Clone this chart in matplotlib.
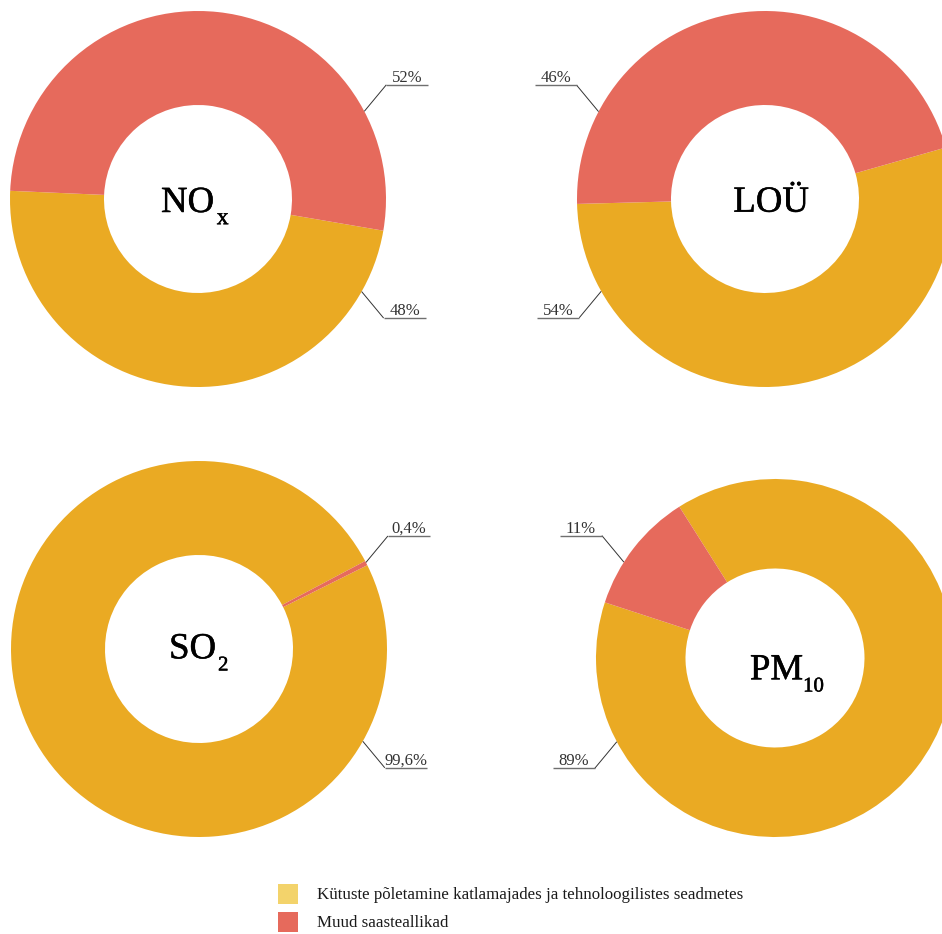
import matplotlib

matplotlib.use("Agg")
import matplotlib.pyplot as plt
import matplotlib.patheffects as pe
import numpy as np
from matplotlib.patches import Rectangle

plt.rcParams["font.family"] = ["Liberation Serif", "DejaVu Serif"]

W, H = 942, 934

# data
POLLUTANTS = ["NO", "LOÜ", "SO", "PM"]
SUBSCRIPTS = ["x", "", "2", "10"]
FUEL_SHARE = [48, 54, 99.6, 89]
OTHER_SHARE = [52, 46, 0.4, 11]
FUEL_LABELS = ["48%", "54%", "99,6%", "89%"]
OTHER_LABELS = ["52%", "46%", "0,4%", "11%"]
LEGEND_LABELS = ["Kütuste põletamine katlamajades ja tehnoloogilistes seadmetes",
                 "Muud saasteallikad"]

YELLOW = "#EAAA23"
RED = "#E66A5C"
LEGEND_YELLOW = "#F3D36B"

# layout, pixels from the top-left corner
CENTERS = [(198, 199), (765, 199), (199, 649), (775, 658)]
RADII = [188, 188, 188, 179]
START = [177.5, 181.5, 27.9, 161.9]
# angle (deg) where each leader line touches the ring: (fuel, other)
ANCHORS = [(-29.5, 27.8), (209.4, 152.3), (-29.4, 27.4), (207.9, 147.6)]
TITLE_POS = [(187.5, 212), (771, 211.7), (192.5, 658.3), (776.5, 679.3)]
SUB_SIZE = [17, 15, 15, 15]
SUB_GAP = [2, 0, 1.5, 0]
BOLDEN = [pe.withStroke(linewidth=0.35, foreground="black")]


def leader(ax, cx, cy, r, ang, text):
    a = np.radians(ang)
    x0, y0 = cx + r * np.cos(a), cy + r * np.sin(a)
    sx = 1 if np.cos(a) > 0 else -1
    sy = 1 if np.sin(a) > 0 else -1
    x1, y1 = x0 + 22 * sx, y0 + 26.5 * sy
    x2 = x1 + 42 * sx
    ax.plot([x0, x1], [y0, y1], color="#333333", lw=0.7, solid_capstyle="butt")
    ax.plot([x1, x2], [y1, y1], color="#6f6f6f", lw=1.0, solid_capstyle="butt")
    ax.text((x1 + x2) / 2, y1 + 3, text, ha="center", va="baseline",
            fontsize=12, color="#333333")


fig = plt.figure(figsize=(W / 100, H / 100), dpi=100)
ax = fig.add_axes([0, 0, 1, 1])

for i in range(4):
    cx, cy = CENTERS[i][0], H - CENTERS[i][1]
    r = RADII[i]
    ax.pie([FUEL_SHARE[i], OTHER_SHARE[i]], colors=[YELLOW, RED],
           startangle=START[i], center=(cx, cy), radius=r, frame=True,
           wedgeprops=dict(width=r / 2, linewidth=0))
    leader(ax, cx, cy, r, ANCHORS[i][0], FUEL_LABELS[i])
    leader(ax, cx, cy, r, ANCHORS[i][1], OTHER_LABELS[i])

    tx, ty = TITLE_POS[i][0], H - TITLE_POS[i][1]
    t = ax.text(tx, ty, POLLUTANTS[i], ha="center", va="baseline",
                fontsize=26.5, color="black", path_effects=BOLDEN)
    if SUBSCRIPTS[i]:
        ax.annotate(SUBSCRIPTS[i], xy=(1, 0), xycoords=t, xytext=(SUB_GAP[i], -3),
                    textcoords="offset points", ha="left", va="baseline",
                    fontsize=SUB_SIZE[i], color="black", path_effects=BOLDEN)

# legend
for j, (lab, col) in enumerate(zip(LEGEND_LABELS, [LEGEND_YELLOW, RED])):
    top = 884 + j * 28.3
    ax.add_patch(Rectangle((278, H - top - 20), 20, 20, color=col, lw=0))
    ax.text(317, H - (899 + j * 28.3), lab, ha="left", va="baseline",
            fontsize=12.2, color="#1a1a1a")

ax.set_xlim(0, W)
ax.set_ylim(0, H)
ax.set_aspect("auto")
ax.set_axis_off()

fig.savefig("out.png", dpi=100)
